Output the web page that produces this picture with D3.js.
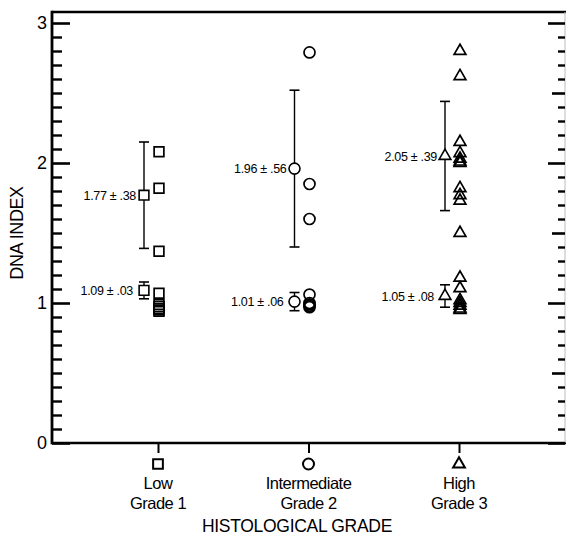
<!DOCTYPE html>
<html><head><meta charset="utf-8">
<script src="https://cdn.jsdelivr.net/npm/d3@7"></script>
<style>
html,body{margin:0;padding:0;background:#fff;}
text{font-family:"Liberation Sans",Arial,Helvetica,sans-serif;fill:#000;}
</style></head>
<body>
<svg id="chart" width="566" height="547"></svg>
<script>
// ---- data ----
const categories = ["Low", "Intermediate", "High"];
const gradeLabels = ["Grade 1", "Grade 2", "Grade 3"];
const symbolsByGrade = ["square", "circle", "triangle"];

const upperMeans = [1.77, 1.96, 2.05];
const upperSD = [0.38, 0.56, 0.39];
const upperLabels = ["1.77 \u00b1 .38", "1.96 \u00b1 .56", "2.05 \u00b1 .39"];

const lowerMeans = [1.09, 1.01, 1.05];
const lowerBar = [0.06, 0.065, 0.08];
const lowerLabels = ["1.09 \u00b1 .03", "1.01 \u00b1 .06", "1.05 \u00b1 .08"];

const lowPoints = [2.08, 1.82, 1.37, 1.07, 0.99, 0.975, 0.96, 0.95, 0.94];
const intermediatePoints = [2.79, 1.85, 1.60, 1.06, 1.0, 0.99, 0.98, 0.97];
const highPoints = [2.80, 2.62, 2.15, 2.07, 2.03, 2.01, 2.0, 1.82, 1.77, 1.73, 1.50, 1.18, 1.105, 1.02, 1.0, 0.98, 0.96, 0.95];
const yTicks = [0, 1, 2, 3];
const pointsByGrade = [lowPoints, intermediatePoints, highPoints];

// ---- layout ----
const svg = d3.select("#chart");
const left = 52, right = 565, topY = 12, bottomY = 443;
const y = d3.scaleLinear().domain([0, 3]).range([443, 23]);
const x = d3.scalePoint().domain(categories).range([158, 459]);

const symTypes = {square: d3.symbolSquare, circle: d3.symbolCircle, triangle: d3.symbolTriangle};
const symSizes = {square: 95, circle: 95, triangle: 60};
function sym(i) {
  const t = symbolsByGrade[i];
  return d3.symbol().type(symTypes[t]).size(symSizes[t])();
}

// frame lines
svg.append("line").attr("x1", left).attr("x2", 566).attr("y1", topY).attr("y2", topY)
  .attr("stroke", "#000").attr("stroke-width", 2.6);
svg.append("line").attr("x1", left).attr("x2", left).attr("y1", topY - 1.3).attr("y2", bottomY + 1.3)
  .attr("stroke", "#000").attr("stroke-width", 2.8);
svg.append("line").attr("x1", left).attr("x2", 566).attr("y1", bottomY).attr("y2", bottomY)
  .attr("stroke", "#000").attr("stroke-width", 2.6);
svg.append("line").attr("x1", right).attr("x2", right).attr("y1", topY).attr("y2", bottomY)
  .attr("stroke", "#bbb").attr("stroke-width", 1);

// left axis (ticks pointing inward)
const minorVals = d3.range(1, 30).map(d => d / 10).filter(d => Math.abs(d - Math.round(d)) > 1e-6);
const leftAxis = d3.axisRight(y).tickValues(yTicks).tickSize(18).tickFormat("");
const gl = svg.append("g").attr("transform", `translate(${left},0)`).call(leftAxis);
gl.select(".domain").remove();
gl.selectAll(".tick line").attr("stroke-width", 2.6);
const leftMinor = d3.axisRight(y).tickValues(minorVals).tickSize(10).tickFormat("");
const glm = svg.append("g").attr("transform", `translate(${left},0)`).call(leftMinor);
glm.select(".domain").remove();
glm.selectAll(".tick line").attr("stroke-width", 2.4);
svg.append("g").selectAll("text").data(yTicks).join("text")
  .attr("x", 47).attr("y", d => y(d)).attr("dy", "0.36em")
  .attr("text-anchor", "end").attr("font-size", 18).text(d => d);

// right axis ticks (inward)
const rightMajor = d3.axisLeft(y).tickValues(yTicks).tickSize(17).tickFormat("");
const grm = svg.append("g").attr("transform", `translate(${right},0)`).call(rightMajor);
grm.select(".domain").remove();
grm.selectAll(".tick line").attr("stroke-width", 2.6);
const halfVals = minorVals.filter(d => Math.abs(d * 2 - Math.round(d * 2)) < 1e-6);
const smallVals = minorVals.filter(d => Math.abs(d * 2 - Math.round(d * 2)) > 1e-6);
const rightHalf = d3.axisLeft(y).tickValues(halfVals).tickSize(13).tickFormat("");
const grh = svg.append("g").attr("transform", `translate(${right},0)`).call(rightHalf);
grh.select(".domain").remove();
grh.selectAll(".tick line").attr("stroke-width", 2.6);
const rightSmall = d3.axisLeft(y).tickValues(smallVals).tickSize(7).tickFormat("");
const grs = svg.append("g").attr("transform", `translate(${right},0)`).call(rightSmall);
grs.select(".domain").remove();
grs.selectAll(".tick line").attr("stroke-width", 2.4);

// bottom axis ticks (outward)
const bottomAxis = d3.axisBottom(x).tickSize(10).tickFormat("");
const gb = svg.append("g").attr("transform", `translate(0,${bottomY})`).call(bottomAxis);
gb.select(".domain").remove();
gb.selectAll(".tick line").attr("stroke-width", 2);

// category symbols & labels
categories.forEach((c, i) => {
  svg.append("path").attr("d", sym(i)).attr("transform", `translate(${x(c)},464)`)
    .attr("fill", "none").attr("stroke", "#000").attr("stroke-width", 2);
  svg.append("text").attr("x", x(c)).attr("y", 489).attr("text-anchor", "middle")
    .attr("font-size", 16.5).attr("letter-spacing", -0.5).text(c);
  svg.append("text").attr("x", x(c)).attr("y", 509).attr("text-anchor", "middle")
    .attr("font-size", 16.5).attr("letter-spacing", -0.5).text(gradeLabels[i]);
});
svg.append("text").attr("x", 297).attr("y", 532).attr("text-anchor", "middle")
  .attr("font-size", 17.5).attr("letter-spacing", -0.3).text("HISTOLOGICAL GRADE");
svg.append("text").attr("transform", `translate(23,233) rotate(-90)`).attr("text-anchor", "middle")
  .attr("font-size", 18).attr("letter-spacing", -0.4).text("DNA INDEX");

// data points
const ptOffset = 1, meanOffset = -14;
categories.forEach((c, i) => {
  const g = svg.append("g");
  g.selectAll("path.pt").data(pointsByGrade[i]).join("path").attr("class", "pt")
    .attr("d", sym(i)).attr("transform", d => `translate(${x(c) + ptOffset},${y(d)})`)
    .attr("fill", "none").attr("stroke", "#000").attr("stroke-width", 1.7);

  const mx = x(c) + meanOffset;
  const rows = [
    {m: upperMeans[i], e: upperSD[i], label: upperLabels[i], dx: -8},
    {m: lowerMeans[i], e: lowerBar[i], label: lowerLabels[i], dx: -11}
  ];
  rows.forEach(r => {
    g.append("line").attr("x1", mx).attr("x2", mx).attr("y1", y(r.m + r.e)).attr("y2", y(r.m - r.e))
      .attr("stroke", "#000").attr("stroke-width", 1.4);
    [r.m + r.e, r.m - r.e].forEach(v => {
      g.append("line").attr("x1", mx - 5).attr("x2", mx + 5).attr("y1", y(v)).attr("y2", y(v))
        .attr("stroke", "#000").attr("stroke-width", 1.6);
    });
    g.append("path").attr("d", sym(i)).attr("transform", `translate(${mx},${y(r.m)})`)
      .attr("fill", "#fff").attr("stroke", "#000").attr("stroke-width", 1.6);
    g.append("text").attr("x", mx + r.dx).attr("y", y(r.m)).attr("dy", "0.36em")
      .attr("text-anchor", "end").attr("font-size", 12.5).attr("letter-spacing", -0.3).text(r.label);
  });
});
</script>
</body></html>
